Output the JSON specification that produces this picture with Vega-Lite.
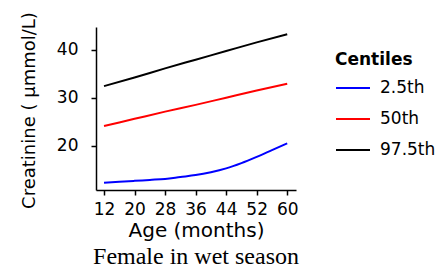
{
  "$schema": "https://vega.github.io/schema/vega-lite/v6.json",
  "width": 200,
  "height": 163,
  "autosize": {"type": "none"},
  "padding": {"left": 96, "top": 27, "right": 149, "bottom": 83},
  "background": "white",
  "title": {
    "text": "Female in wet season",
    "orient": "bottom",
    "anchor": "middle",
    "font": "Liberation Serif",
    "fontSize": 24,
    "fontWeight": "normal",
    "color": "black",
    "offset": 5
  },
  "config": {
    "view": {"stroke": null},
    "font": "DejaVu Sans"
  },
  "data": {
    "values": [
      {"age": 12, "value": 12.3, "centile": "2.5th"},
      {"age": 16, "value": 12.5, "centile": "2.5th"},
      {"age": 20, "value": 12.7, "centile": "2.5th"},
      {"age": 24, "value": 12.9, "centile": "2.5th"},
      {"age": 28, "value": 13.1, "centile": "2.5th"},
      {"age": 32, "value": 13.5, "centile": "2.5th"},
      {"age": 36, "value": 13.9, "centile": "2.5th"},
      {"age": 40, "value": 14.5, "centile": "2.5th"},
      {"age": 44, "value": 15.3, "centile": "2.5th"},
      {"age": 48, "value": 16.4, "centile": "2.5th"},
      {"age": 52, "value": 17.7, "centile": "2.5th"},
      {"age": 56, "value": 19.1, "centile": "2.5th"},
      {"age": 60, "value": 20.5, "centile": "2.5th"},
      {"age": 12, "value": 24.1, "centile": "50th"},
      {"age": 20, "value": 25.6, "centile": "50th"},
      {"age": 28, "value": 27.1, "centile": "50th"},
      {"age": 36, "value": 28.5, "centile": "50th"},
      {"age": 44, "value": 30.0, "centile": "50th"},
      {"age": 52, "value": 31.5, "centile": "50th"},
      {"age": 60, "value": 32.9, "centile": "50th"},
      {"age": 12, "value": 32.4, "centile": "97.5th"},
      {"age": 20, "value": 34.2, "centile": "97.5th"},
      {"age": 28, "value": 36.1, "centile": "97.5th"},
      {"age": 36, "value": 37.9, "centile": "97.5th"},
      {"age": 44, "value": 39.7, "centile": "97.5th"},
      {"age": 52, "value": 41.5, "centile": "97.5th"},
      {"age": 60, "value": 43.2, "centile": "97.5th"}
    ]
  },
  "mark": {"type": "line", "strokeWidth": 2, "interpolate": "monotone"},
  "encoding": {
    "x": {
      "field": "age",
      "type": "quantitative",
      "scale": {"domain": [9.9, 62.3], "nice": false, "zero": false},
      "axis": {
        "values": [12, 20, 28, 36, 44, 52, 60],
        "title": "Age (months)",
        "grid": false,
        "domainColor": "black",
        "domainWidth": 1.5,
        "tickColor": "black",
        "tickWidth": 1.5,
        "tickSize": 5,
        "labelFont": "DejaVu Sans",
        "labelFontSize": 17,
        "labelColor": "black",
        "labelPadding": 6,
        "labelFlush": false,
        "labelOverlap": false,
        "titleFont": "DejaVu Sans",
        "titleFontSize": 20,
        "titleFontWeight": "normal",
        "titleColor": "black",
        "titleBaseline": "alphabetic",
        "titleY": 46
      }
    },
    "y": {
      "field": "value",
      "type": "quantitative",
      "scale": {"domain": [10.8, 44.7], "nice": false, "zero": false},
      "axis": {
        "values": [20, 30, 40],
        "title": "Creatinine ( μmmol/L)",
        "grid": false,
        "domainColor": "black",
        "domainWidth": 1.5,
        "tickColor": "black",
        "tickWidth": 1.5,
        "tickSize": 5,
        "labelFont": "DejaVu Sans",
        "labelFontSize": 17,
        "labelColor": "black",
        "labelPadding": 13,
        "labelFlush": false,
        "titleFont": "DejaVu Sans",
        "titleFontSize": 18,
        "titleFontWeight": "normal",
        "titleColor": "black",
        "titleBaseline": "alphabetic",
        "titleX": -62,
        "titleY": 83
      }
    },
    "color": {
      "field": "centile",
      "type": "nominal",
      "sort": ["2.5th", "50th", "97.5th"],
      "scale": {"domain": ["2.5th", "50th", "97.5th"], "range": ["#0000ff", "#ff0000", "#000000"]},
      "legend": {
        "title": "Centiles",
        "orient": "none",
        "legendX": 239,
        "legendY": 25,
        "titleFont": "DejaVu Sans",
        "titleFontSize": 17,
        "titleFontWeight": "bold",
        "titleColor": "black",
        "titlePadding": 1,
        "labelFont": "DejaVu Sans",
        "labelFontSize": 17,
        "labelColor": "black",
        "labelOffset": 9,
        "symbolType": "stroke",
        "symbolSize": 1156,
        "symbolStrokeWidth": 2,
        "rowPadding": 5,
        "padding": 0
      }
    }
  }
}
